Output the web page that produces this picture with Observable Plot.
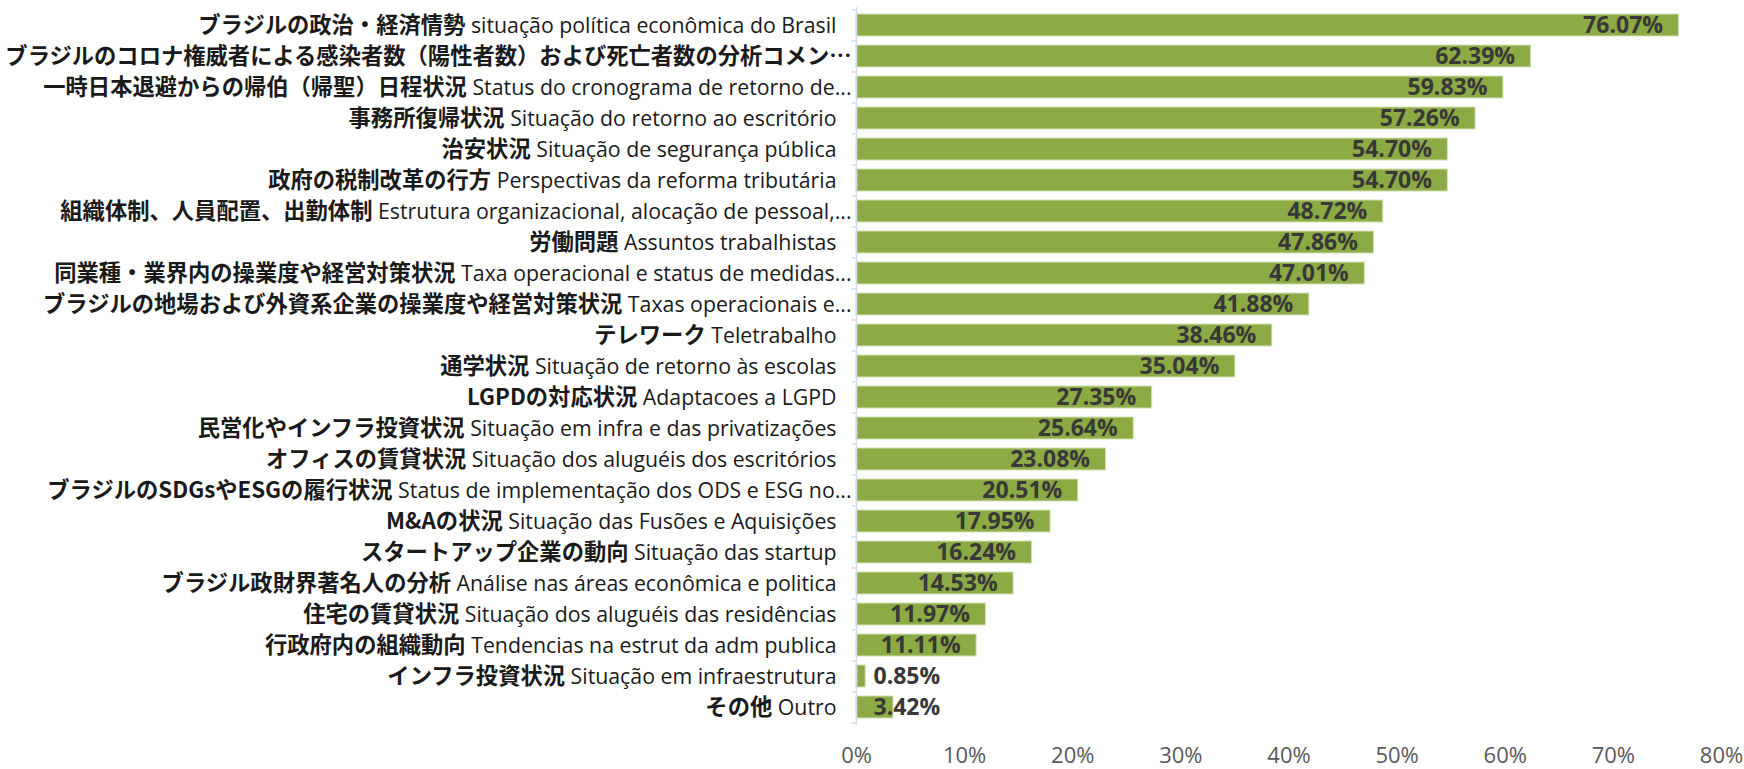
<!DOCTYPE html>
<html>
<head>
<meta charset="utf-8">
<script src="https://cdn.jsdelivr.net/npm/d3@7"></script>
<script src="https://cdn.jsdelivr.net/npm/@observablehq/plot@0.6"></script>
<style>
  html, body { margin: 0; padding: 0; background: #ffffff; }
  #chart { width: 1744px; height: 769px; overflow: hidden; }
</style>
</head>
<body>
<div id="chart"></div>
<script>
// ---- Data ----
const labelsJa = [
  "ブラジルの政治・経済情勢",
  "ブラジルのコロナ権威者による感染者数（陽性者数）および死亡者数の分析コメン…",
  "一時日本退避からの帰伯（帰聖）日程状況",
  "事務所復帰状況",
  "治安状況",
  "政府の税制改革の行方",
  "組織体制、人員配置、出勤体制",
  "労働問題",
  "同業種・業界内の操業度や経営対策状況",
  "ブラジルの地場および外資系企業の操業度や経営対策状況",
  "テレワーク",
  "通学状況",
  "LGPDの対応状況",
  "民営化やインフラ投資状況",
  "オフィスの賃貸状況",
  "ブラジルのSDGsやESGの履行状況",
  "M&Aの状況",
  "スタートアップ企業の動向",
  "ブラジル政財界著名人の分析",
  "住宅の賃貸状況",
  "行政府内の組織動向",
  "インフラ投資状況",
  "その他"
];
const labelsPt = [
  "situação política econômica do Brasil",
  "",
  "Status do cronograma de retorno de...",
  "Situação do retorno ao escritório",
  "Situação de segurança pública",
  "Perspectivas da reforma tributária",
  "Estrutura organizacional, alocação de pessoal,...",
  "Assuntos trabalhistas",
  "Taxa operacional e status de medidas...",
  "Taxas operacionais e...",
  "Teletrabalho",
  "Situação de retorno às escolas",
  "Adaptacoes a LGPD",
  "Situação em infra e das privatizações",
  "Situação dos aluguéis dos escritórios",
  "Status de implementação dos ODS e ESG no...",
  "Situação das Fusões e Aquisições",
  "Situação das startup",
  "Análise nas áreas econômica e politica",
  "Situação dos aluguéis das residências",
  "Tendencias na estrut da adm publica",
  "Situação em infraestrutura",
  "Outro"
];
const values = [76.07, 62.39, 59.83, 57.26, 54.70, 54.70, 48.72, 47.86, 47.01, 41.88, 38.46, 35.04, 27.35, 25.64, 23.08, 20.51, 17.95, 16.24, 14.53, 11.97, 11.11, 0.85, 3.42];
const xTicks = [0, 10, 20, 30, 40, 50, 60, 70, 80];

// ---- Layout / style ----
const W = 1744, H = 769;
const M = {top: 7, right: 23, bottom: 44, left: 856};
const barColor = "#8cab44";
const axisColor = "#d5dcea";

const rows = labelsJa.map((ja, i) => ({
  ja, pt: labelsPt[i], value: values[i],
  key: labelsPt[i] ? ja + " " + labelsPt[i] : ja
}));
const keys = rows.map(d => d.key);
const step = (H - M.top - M.bottom) / keys.length;

const svg = Plot.plot({
  width: W, height: H,
  marginTop: M.top, marginRight: M.right, marginBottom: M.bottom, marginLeft: M.left,
  style: {fontFamily: "'Open Sans', sans-serif", background: "#ffffff"},
  x: {domain: [0, 80], axis: null, label: null},
  y: {domain: keys, paddingInner: 0.29, paddingOuter: 0.145, axis: null, label: null},
  marks: [
    Plot.barX(rows, {x: "value", y: "key", fill: barColor, stroke: "#d3e2b6", strokeWidth: 1}),
    Plot.ruleX([0], {stroke: axisColor, strokeWidth: 1.5}),
    Plot.ruleY(keys, {y: d => d, x1: -0.4, x2: 0, dy: -step / 2, stroke: axisColor, strokeWidth: 1.5}),
    Plot.ruleY(keys.slice(-1), {y: d => d, x1: -0.4, x2: 0, dy: step / 2, stroke: axisColor, strokeWidth: 1.5}),
    Plot.axisX({ticks: xTicks, tickFormat: d => d + "%", tickSize: 0, tickPadding: 22, fontSize: 22, color: "#595959", label: null}),
    // category labels
    Plot.text(rows, {x: 0, y: "key", text: "key", textAnchor: "end", dx: -20, fill: "#1a1a1a", fontSize: 22}),
    // value labels
    Plot.text(rows.filter(d => d.value >= 5), {x: "value", y: "key", text: d => d.value.toFixed(2) + "%", textAnchor: "end", dx: -16, fill: "#383838", fontSize: 23, fontWeight: "bold"}),
    Plot.text(rows.filter(d => d.value < 5), {x: 0, y: "key", text: d => d.value.toFixed(2) + "%", textAnchor: "start", dx: 17, fill: "#383838", fontSize: 23, fontWeight: "bold"})
  ]
});

// split category labels into bold Japanese + regular Portuguese parts
const textGroups = svg.querySelectorAll('g[aria-label="text"]');
if (textGroups.length) {
  const ns = "http://www.w3.org/2000/svg";
  textGroups[0].querySelectorAll("text").forEach(t => {
    const s = t.textContent;
    const idx = s.indexOf(" ");
    const ja = idx < 0 ? s : s.slice(0, idx);
    const pt = idx < 0 ? "" : s.slice(idx + 1);
    t.textContent = "";
    t.setAttribute("style", "white-space: pre");
    const a = document.createElementNS(ns, "tspan");
    a.setAttribute("font-family", "'Noto Sans CJK JP', sans-serif");
    a.setAttribute("font-weight", "bold");
    a.setAttribute("font-size", "22.3");
    a.textContent = ja;
    t.appendChild(a);
    if (pt) {
      const b = document.createElementNS(ns, "tspan");
      b.setAttribute("font-family", "'Open Sans', sans-serif");
      b.setAttribute("font-weight", "normal");
      b.setAttribute("font-size", "21.3");
      b.textContent = " " + pt;
      t.appendChild(b);
    }
    if (/(…|\.\.\.)$/.test(s)) {
      const dx = parseFloat(t.getAttribute("dx") || "0");
      t.setAttribute("dx", dx + 15);
    }
  });
}

document.getElementById("chart").appendChild(svg);
</script>
</body>
</html>
